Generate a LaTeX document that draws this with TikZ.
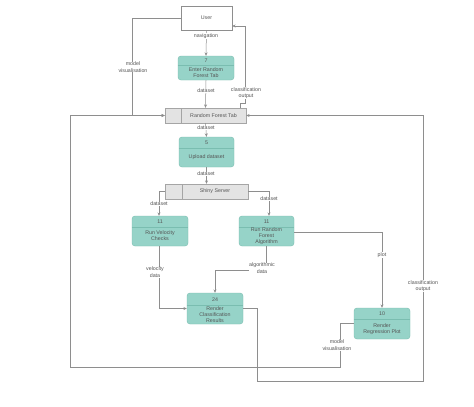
\documentclass[tikz,border=0pt]{standalone}
\usepackage{fontspec}
\setmainfont{Liberation Sans}
\usetikzlibrary{arrows.meta,calc}
\definecolor{teal1}{HTML}{96D3C8}
\definecolor{tealb}{HTML}{7ABDB0}
\definecolor{storef}{HTML}{E3E3E3}
\definecolor{lineg}{HTML}{8E8E8E}
\definecolor{txtg}{HTML}{555555}
\tikzset{
  every node/.style={font=\fontsize{5.3}{6.3}\selectfont, text=txtg, align=center, inner sep=0.5pt},
  proc/.style={draw=tealb, fill=teal1, rounded corners=3pt, line width=0.4pt},
  ent/.style={draw=lineg, fill=white, line width=0.4pt},
  store/.style={draw=lineg!80, fill=storef, line width=0.4pt},
  arr/.style={draw=lineg, line width=0.5pt, -{Stealth[length=3.4pt,width=3pt]}},
  lbl/.style={fill=white, inner sep=0.4pt},
}
\begin{document}
\begin{tikzpicture}[x=1pt,y=-1pt]
\useasboundingbox (0,0) rectangle (474,407);
\fill[white] (0,0) rectangle (474,407);
% entity
\node[ent, minimum width=51pt, minimum height=24pt] (User) at (206.5,18) {User};
% process 7
\node[proc, minimum width=56pt, minimum height=24pt] (N7) at (206,68) {};
\draw[tealb, line width=0.4pt] (N7.west |- 0,65) -- (N7.east |- 0,65);
\node (N7n) at (206,60.8) {7};
\node (N7t) at (206,72.5) {Enter Random\\Forest Tab};
% store RF tab
\node[store, minimum width=81pt, minimum height=15pt] (RFtab) at (205.5,115.5) {};
\draw[lineg!80, line width=0.4pt] (181,108) -- (181,123);
\node (RFtabt) at (213.5,115.5) {Random Forest Tab};
% process 5
\node[proc, minimum width=55pt, minimum height=30pt] (N5) at (206.5,152) {};
\draw[tealb, line width=0.4pt] (N5.west |- 0,148) -- (N5.east |- 0,148);
\node (N5n) at (206.5,142.5) {5};
\node (N5t) at (206.5,157.5) {Upload dataset};
% store Shiny
\node[store, minimum width=83pt, minimum height=15pt] (Shiny) at (206.5,191.5) {};
\draw[lineg!80, line width=0.4pt] (182,184) -- (182,199);
\node (Shinyt) at (215,191.5) {Shiny Server};
% process 11 velocity
\node[proc, minimum width=56pt, minimum height=30pt] (NV) at (160,231) {};
\draw[tealb, line width=0.4pt] (NV.west |- 0,227) -- (NV.east |- 0,227);
\node (NVn) at (160,221.5) {11};
\node (NVt) at (160,235.5) {Run Velocity\\Checks};
% process 11 RF
\node[proc, minimum width=55pt, minimum height=30pt] (NRF) at (266.5,231) {};
\draw[tealb, line width=0.4pt] (NRF.west |- 0,227) -- (NRF.east |- 0,227);
\node (NRFn) at (266.5,221.5) {11};
\node (NRFt) at (266.5,236) {Run Random\\Forest\\Algorithm};
% process 24
\node[proc, minimum width=56pt, minimum height=31pt] (N24) at (215,308.5) {};
\draw[tealb, line width=0.4pt] (N24.west |- 0,305) -- (N24.east |- 0,305);
\node (N24n) at (215,299.5) {24};
\node (N24t) at (215,314.5) {Render\\Classification\\Results};
% process 10
\node[proc, minimum width=56pt, minimum height=31pt] (N10) at (382,323.5) {};
\draw[tealb, line width=0.4pt] (N10.west |- 0,319) -- (N10.east |- 0,319);
\node (N10n) at (382,313.5) {10};
\node (N10t) at (382,329) {Render\\Regression Plot};

% connectors
\draw[arr] (User.south) -- (N7.north);
\draw[arr] (N7.south) -- (RFtab.north);
\draw[arr] ($(RFtab.north east)+(-6,0)$) -- ++(0,-5) -- ++(5,0) |- ($(User.east)+(0,8)$);
\draw[arr] (User.west) -- ++(-49,0) |- (RFtab.west);
\draw[arr] (N10.west) -- ++(-14,0) -- ++(0,44) -- ++(-270,0) |- (RFtab.west);
\draw[arr] (N24.east) -- ++(14,0) -- ++(0,72.5) -- ++(166,0) |- (RFtab.east);
\draw[arr] (RFtab.south) -- (N5.north);
\draw[arr] (N5.south) -- (Shiny.north);
\draw[arr] (Shiny.west) -| ($(NV.north)+(-1,0)$);
\draw[arr] (Shiny.east) -| ($(NRF.north)+(2.5,0)$);
\draw[arr] ($(NV.south)+(-1,0)$) |- (N24.west);
\draw[arr] (NRF.south) -- ++(0,24) -| (N24.north);
\draw[arr] ($(NRF.east)+(0,1)$) -| (N10.north);

% connector labels
\node[lbl] (L1) at (206,36) {navigation};
\node[lbl] (L2) at (206,91) {dataset};
\node[lbl] (L3) at (246,93) {classification\\output};
\node[lbl] (L4) at (133,67) {model\\visualisation};
\node[lbl] (L5) at (337,345) {model\\visualisation};
\node[lbl] (L6) at (423,286) {classification\\output};
\node[lbl] (L7) at (206,128) {dataset};
\node[lbl] (L8) at (206,174) {dataset};
\node[lbl] (L9) at (159,204) {dataset};
\node[lbl] (L10) at (269,199) {dataset};
\node[lbl] (L11) at (155,272) {velocity\\data};
\node[lbl] (L12) at (262,268) {algorithmic\\data};
\node[lbl] (L13) at (382,255) {plot};
\end{tikzpicture}
\end{document}
